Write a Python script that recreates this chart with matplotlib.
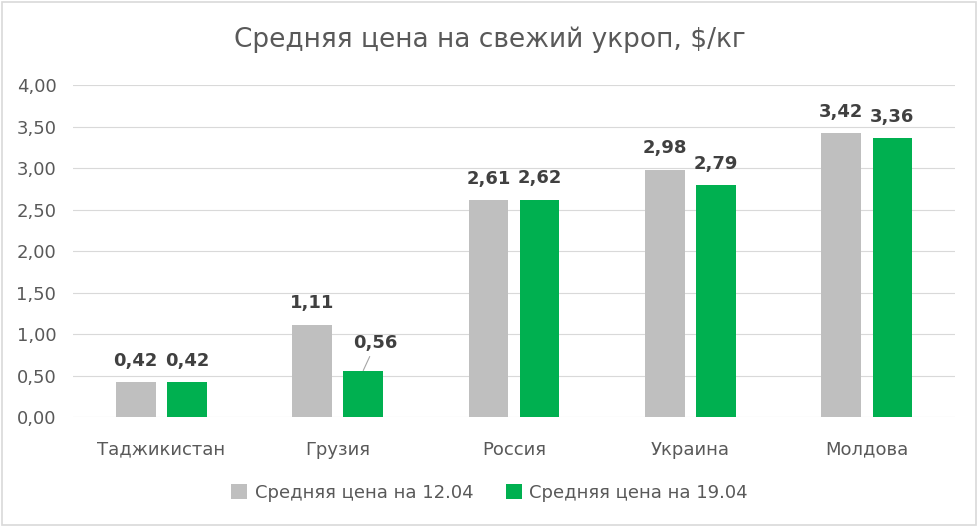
import matplotlib.pyplot as plt
import numpy as np

plt.rcParams['font.family'] = ['DejaVu Sans']

countries = ['Таджикистан', 'Грузия', 'Россия', 'Украина', 'Молдова']
price_1204 = [0.42, 1.11, 2.61, 2.98, 3.42]
price_1904 = [0.42, 0.56, 2.62, 2.79, 3.36]
yticks = [0, 0.5, 1, 1.5, 2, 2.5, 3, 3.5, 4]

fig = plt.figure(figsize=(9.79, 5.27), dpi=100)
ax = fig.add_axes([0.0746, 0.2087, 0.901, 0.63])

x = np.arange(len(countries))
w = 0.225
b1 = ax.bar(x - 0.145, price_1204, w, color='#BFBFBF', label='Средняя цена на 12.04')
b2 = ax.bar(x + 0.145, price_1904, w, color='#00B050', label='Средняя цена на 19.04')

fmt = lambda v: f'{v:.2f}'.replace('.', ',')
lbl = dict(fontsize=13, fontweight='bold', color='#404040')
ax.bar_label(b1, labels=[fmt(v) for v in price_1204], padding=9, **lbl)
# Грузия 19.04 label is moved aside with a leader line, like in the original
ax.bar_label(b2, labels=['' if i == 1 else fmt(v) for i, v in enumerate(price_1904)],
             padding=9, **lbl)
ax.annotate(fmt(price_1904[1]), xy=(x[1] + 0.145, price_1904[1]), xytext=(9, 13),
            textcoords='offset points', ha='center', va='bottom',
            arrowprops=dict(arrowstyle='-', color='#A6A6A6', lw=0.8,
                            shrinkA=1, shrinkB=0), **lbl)

ax.set_xlim(-0.5, 4.5)
ax.set_ylim(0, 4)
ax.set_yticks(yticks)
ax.set_yticklabels([fmt(v) for v in yticks])
ax.set_xticks(x)
ax.set_xticklabels(countries)
ax.tick_params(axis='both', length=0, labelsize=13, colors='#595959')
ax.tick_params(axis='x', pad=17)
ax.tick_params(axis='y', pad=12)
ax.yaxis.grid(True, color='#D9D9D9', linewidth=0.8)
ax.set_axisbelow(True)
for s in ax.spines.values():
    s.set_visible(False)

fig.text(0.5, 0.925, 'Средняя цена на свежий укроп, $/кг', ha='center', va='center',
         fontsize=19, color='#595959')
fig.legend(loc='center', bbox_to_anchor=(0.5, 0.065), ncol=2, frameon=False,
           fontsize=13, labelcolor='#595959', handlelength=0.9, handleheight=0.9,
           handletextpad=0.4, columnspacing=1.8)

fig.patches.append(plt.Rectangle((0.002, 0.003), 0.995, 0.994, transform=fig.transFigure,
                                 fill=False, edgecolor='#D9D9D9', linewidth=1.2))

fig.savefig('out.png', dpi=100)
